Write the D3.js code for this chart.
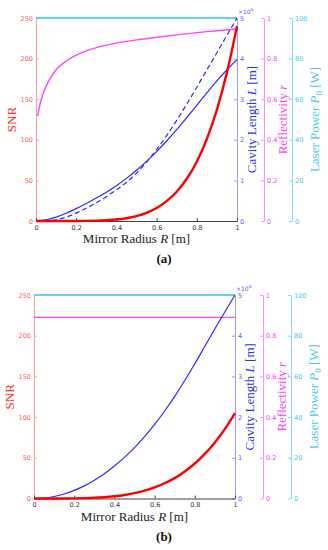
<!DOCTYPE html>
<html>
<head>
<meta charset="utf-8">
<script src="https://cdn.jsdelivr.net/npm/d3@7"></script>
<style>
  body { margin: 0; background: #fff; }
  svg { display: block; }
  .tick text { font-family: "DejaVu Sans", sans-serif; font-size: 6.5px; }
  .lab { font-family: "Liberation Serif", serif; font-size: 13px; }
</style>
</head>
<body>
<div id="chart"></div>
<script>
// mirror radius grid, R [m]
var radius = [0, 0.05, 0.1, 0.15, 0.2, 0.25, 0.3, 0.35, 0.4, 0.45, 0.5,
  0.55, 0.6, 0.65, 0.7, 0.75, 0.8, 0.85, 0.9, 0.95, 1];

// panel (a)
var snrA = [0, 0, 0.001, 0.01, 0.05, 0.15, 0.4, 0.9, 1.8, 3.4, 6,
  10, 16, 24.5, 36, 52, 73, 101, 137, 183, 240];
var lenSolidA = [0, 0.03, 0.095, 0.19, 0.305, 0.43, 0.565, 0.71, 0.87, 1.05, 1.25,
  1.47, 1.71, 1.97, 2.25, 2.545, 2.85, 3.155, 3.45, 3.725, 3.975];
var lenDashA = [0, 0.005, 0.03, 0.095, 0.195, 0.315, 0.45, 0.6, 0.765, 0.955, 1.18,
  1.45, 1.76, 2.105, 2.48, 2.88, 3.295, 3.72, 4.145, 4.575, 5.0];
var reflRadiusA = [0.008, 0.02, 0.04, 0.06, 0.08, 0.1, 0.15, 0.2, 0.25, 0.3,
  0.4, 0.5, 0.6, 0.7, 0.8, 0.9, 1.0];
var reflA = [0.517, 0.575, 0.64, 0.683, 0.717, 0.745, 0.788, 0.817, 0.838, 0.854,
  0.876, 0.892, 0.905, 0.917, 0.928, 0.937, 0.946];

// panel (b)
var snrB = [0, 0, 0.01, 0.05, 0.17, 0.41, 0.85, 1.58, 2.7, 4.3, 6.6,
  9.6, 13.6, 18.7, 25, 33.2, 43, 54.8, 68.9, 85.5, 105];
var lenB = [0, 0.012, 0.05, 0.11, 0.2, 0.31, 0.45, 0.61, 0.8, 1.01, 1.25,
  1.52, 1.82, 2.15, 2.51, 2.9, 3.31, 3.74, 4.17, 4.59, 5.0];
var reflRadiusB = [0, 1];
var reflB = [0.89, 0.89];

// laser power, both panels
var powerRadius = [0, 1];
var power = [100, 100];

// ticks
var xTicks = [0, 0.2, 0.4, 0.6, 0.8, 1];
var snrTicks = [0, 50, 100, 150, 200, 250];
var lenTicks = [0, 1, 2, 3, 4, 5];
var reflTicks = [0, 0.2, 0.4, 0.6, 0.8, 1];
var powerTicks = [0, 20, 40, 60, 80, 100];

var svg = d3.select("#chart").append("svg")
  .attr("width", 328).attr("height", 550);

function pts(xs, ys) {
  return xs.map(function(x, i) { return [x, ys[i]]; });
}

function drawPanel(p) {
  var x = d3.scaleLinear().domain([0, 1]).range([p.left, p.right]);
  var ySnr = d3.scaleLinear().domain([0, 250]).range([p.bottom, p.top]);
  var yLen = d3.scaleLinear().domain([0, 5]).range([p.bottom, p.top]);
  var yRefl = d3.scaleLinear().domain([0, 1]).range([p.bottom, p.top]);
  var yPow = d3.scaleLinear().domain([0, 100]).range([p.bottom, p.top]);

  var g = svg.append("g");
  var fmt = function(d) { return String(d); };

  function axis(a, tx, ty, color, labColor) {
    var ax = g.append("g")
      .attr("transform", "translate(" + tx + "," + ty + ")")
      .call(a.tickFormat(fmt).tickSize(-3).tickSizeOuter(0));
    ax.select(".domain").attr("stroke", color);
    ax.selectAll(".tick line").attr("stroke", color);
    ax.selectAll(".tick text").attr("fill", labColor);
    return ax;
  }

  axis(d3.axisLeft(ySnr).tickValues(snrTicks).tickPadding(3),
    p.left, 0, "#ff9c9c", "#ff5a5a");
  axis(d3.axisRight(yLen).tickValues(lenTicks).tickPadding(3),
    p.right, 0, "#9c9cff", "#5a5aff");
  axis(d3.axisRight(yRefl).tickValues(reflTicks).tickPadding(3),
    p.reflX, 0, "#ff90ff", "#ff40ff");
  axis(d3.axisRight(yPow).tickValues(powerTicks).tickPadding(3),
    p.powX, 0, "#80dcff", "#40c8f4");
  axis(d3.axisBottom(x).tickValues(xTicks).tickPadding(4),
    0, p.bottom, "#444", "#333");

  var line = d3.line().x(function(d) { return x(d[0]); });

  // laser power
  g.append("path").datum(pts(powerRadius, power))
    .attr("d", line.y(function(d) { return yPow(d[1]); }))
    .attr("fill", "none").attr("stroke", "#66d0f0").attr("stroke-width", 2);
  // reflectivity
  g.append("path").datum(pts(p.reflR, p.refl))
    .attr("d", line.curve(d3.curveMonotoneX).y(function(d) { return yRefl(d[1]); }))
    .attr("fill", "none").attr("stroke", "#ff44ff").attr("stroke-width", 1.4);
  // cavity length
  p.lens.forEach(function(l) {
    g.append("path").datum(pts(radius, l.values))
      .attr("d", line.curve(d3.curveMonotoneX).y(function(d) { return yLen(d[1]); }))
      .attr("fill", "none").attr("stroke", "#2a2aff").attr("stroke-width", 1.2)
      .attr("stroke-dasharray", l.dash ? "5,3" : null);
  });
  // SNR
  g.append("path").datum(pts(radius, p.snr))
    .attr("d", line.curve(d3.curveMonotoneX).y(function(d) { return ySnr(d[1]); }))
    .attr("fill", "none").attr("stroke", "#ff0000").attr("stroke-width", 2.4);

  // x10^6
  var mult = g.append("text").attr("x", p.right + 1).attr("y", p.top - 4)
    .attr("font-family", "DejaVu Sans, sans-serif").attr("font-size", 6)
    .attr("fill", "#5a5aff").text("\u00d710");
  mult.append("tspan").attr("dy", -3).attr("font-size", 4.5).text("6");

  var midY = (p.top + p.bottom) / 2;

  function vlabel(cx, color, build) {
    var t = g.append("text").attr("class", "lab")
      .attr("transform", "translate(" + cx + "," + midY + ") rotate(-90)")
      .attr("text-anchor", "middle").attr("fill", color);
    build(t);
  }

  vlabel(p.left - 20, "#ff3030", function(t) {
    t.attr("font-size", 14).text("SNR");
  });
  vlabel(p.right + 19, "#3030f0", function(t) {
    t.append("tspan").text("Cavity Length ");
    t.append("tspan").attr("font-style", "italic").text("L");
    t.append("tspan").text(" [m]");
  });
  vlabel(p.reflX + 23, "#ff40f0", function(t) {
    t.append("tspan").text("Reflectivity ");
    t.append("tspan").attr("font-style", "italic").text("r");
  });
  vlabel(p.powX + 27, "#50c8f0", function(t) {
    t.append("tspan").text("Laser Power ");
    t.append("tspan").attr("font-style", "italic").text("P");
    t.append("tspan").attr("font-size", 9).attr("dy", 3).text("0");
    t.append("tspan").attr("dy", -3).text(" [W]");
  });

  var xl = g.append("text").attr("class", "lab")
    .attr("x", (p.left + p.right) / 2).attr("y", p.bottom + 22)
    .attr("text-anchor", "middle").attr("fill", "#222");
  xl.append("tspan").text("Mirror Radius  ");
  xl.append("tspan").attr("font-style", "italic").text("R");
  xl.append("tspan").text(" [m]");

  g.append("text").attr("class", "lab")
    .attr("x", 164).attr("y", p.bottom + 42)
    .attr("text-anchor", "middle").attr("font-weight", "bold")
    .attr("font-size", 14).attr("fill", "#111")
    .text(p.tag);
}

drawPanel({
  left: 36, right: 237, top: 18, bottom: 221, reflX: 264, powX: 292,
  snr: snrA, lens: [{ values: lenSolidA }, { values: lenDashA, dash: true }],
  reflR: reflRadiusA, refl: reflA, tag: "(a)"
});
drawPanel({
  left: 34, right: 235, top: 295, bottom: 498.5, reflX: 263, powX: 291,
  snr: snrB, lens: [{ values: lenB }],
  reflR: reflRadiusB, refl: reflB, tag: "(b)"
});
</script>
</body>
</html>
